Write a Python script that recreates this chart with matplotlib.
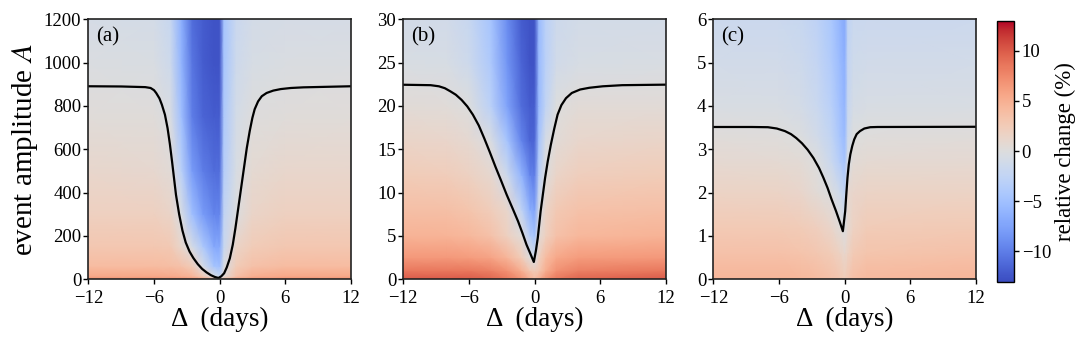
import numpy as np
import matplotlib.pyplot as plt
from matplotlib.colors import Normalize
from matplotlib.cm import ScalarMappable

plt.rcParams['font.family'] = ['Liberation Serif', 'DejaVu Serif']
plt.rcParams['mathtext.fontset'] = 'stix'

# relative change (%) on a coarse grid of nodes
# panel (a)
delta_a = [-12, -6, -4.5, -3.5, -2.5, -1.5, -0.5, 0, 0.4, 1.5, 3, 6, 12]
amp_a = [0, 15, 60, 150, 300, 500, 750, 1000, 1200]
val_a = [
    [7, 7, 7, 7, 6.5, 6, 4, 2, 4, 6, 6.5, 7, 7],
    [5.5, 5.5, 5.3, 5, 4.5, 2.5, -0.5, -2, 0.5, 3.5, 5, 5.5, 5.5],
    [4, 4, 3.8, 3.5, 2.5, -0.8, -4.5, -5, -0.5, 2.5, 3.5, 4, 4],
    [3, 3, 2.8, 1.2, -0.8, -4, -7, -7, -2, 1.5, 2.5, 3, 3],
    [2, 2, 1.5, -0.5, -5, -8, -9.5, -9.5, -2.5, -0.2, 1.5, 2, 2],
    [1.2, 1.0, 0.5, -3, -8, -10, -11, -11, -3.5, -0.6, 0.8, 1.2, 1.2],
    [0.4, 0.3, -0.4, -5, -10, -11.5, -12, -12, -4, -1.0, 0.05, 0.3, 0.4],
    [-0.3, -0.5, -1.5, -6, -10.5, -12, -12.5, -12.5, -4.5, -1.5, -0.7, -0.4, -0.3],
    [-0.8, -1.0, -2, -6.5, -11, -12, -12.5, -12.5, -4.5, -1.8, -1.0, -0.8, -0.8],
]
# zero contour (a)
line_a_x = [-12, -9, -6.8, -6.31, -6.0, -5.8, -5.5, -5.28, -5.0, -4.76, -4.55, -4.35,
            -3.99, -3.7, -3.4, -3.1, -2.75, -2.4, -2.0, -1.6, -1.2, -0.8, -0.45, -0.11,
            0.15, 0.41, 0.65, 0.93, 1.2, 1.44, 1.96, 2.48, 2.75, 2.99, 3.2, 3.51, 3.85,
            4.29, 4.9, 5.58, 6.5, 7.65, 12]
line_a_y = [891, 890, 887, 883, 873, 860, 835, 806, 760, 698, 625, 544,
            390, 300, 225, 170, 128, 98, 70, 48, 32, 19, 11, 6,
            14, 28, 55, 97, 160, 236, 421, 606, 685, 745, 785, 821, 845,
            860, 871, 878, 883, 886, 891]

# panel (b)
delta_b = [-12, -8, -6, -4, -2.5, -1.2, -0.4, 0, 0.4, 1, 2, 4, 12]
amp_b = [0, 1, 2.5, 5, 8, 12, 16, 20, 25, 30]
val_b = [
    [10, 10, 10, 9.5, 8.5, 7, 5, 4, 5, 7, 8.5, 9.5, 10],
    [8.5, 8.5, 8.5, 8, 7, 5, 3, 2.5, 3, 5, 7, 8, 8.5],
    [6.5, 6.5, 6.3, 5.8, 4.5, 2.5, 0.1, -0.8, 2, 4, 5.5, 6.3, 6.5],
    [4.7, 4.6, 4.3, 3.5, 2.0, 0.4, -3.5, -4.5, 0.5, 2, 3.5, 4.3, 4.7],
    [3.7, 3.6, 3.2, 2.3, 1.2, -2.5, -6.5, -7.5, -1, 1.5, 2.8, 3.4, 3.7],
    [2.5, 2.3, 1.9, 1.0, -1.5, -6, -9.5, -10, -3, 0, 1.5, 2.2, 2.5],
    [1.5, 1.3, 0.9, -0.4, -4.5, -9.5, -11.5, -11.5, -4.5, -0.8, 0.5, 1.2, 1.5],
    [0.5, 0.4, -0.1, -3, -7.5, -11, -12, -12, -5.5, -2.5, -0.1, 0.45, 0.5],
    [-0.5, -0.7, -1.5, -4, -8.5, -11.5, -12.5, -12.5, -5.5, -3, -1.2, -0.7, -0.5],
    [-1.0, -1.2, -2, -4.5, -9, -12, -12.5, -12.5, -5.5, -3, -1.5, -1.1, -1.0],
]
line_b_x = [-12, -9.5, -8.74, -8.2, -7.71, -7.2, -6.67, -6.15, -5.64, -5.1, -4.61, -4.1,
            -3.58, -3.05, -2.55, -2.0, -1.51, -1.1, -0.74, -0.4, -0.07,
            0.12, 0.29, 0.55, 0.96, 1.2, 1.48, 1.8, 2.1, 2.45, 2.87, 3.4,
            4.16, 5, 6.22, 8, 12]
line_b_y = [22.45, 22.4, 22.27, 22.05, 21.7, 21.3, 20.7, 19.95, 19.0, 17.75, 16.3, 14.7,
            13.0, 11.35, 9.76, 8.15, 6.69, 5.3, 4.0, 3.0, 2.0,
            3.3, 4.76, 7.84, 11.7, 13.6, 15.5, 17.4, 19.0, 20.1, 20.9, 21.5,
            21.9, 22.1, 22.27, 22.4, 22.46]

# panel (c)
delta_c = [-12, -6, -4, -2.5, -1.2, -0.4, 0, 0.3, 0.8, 2, 12]
amp_c = [0, 0.6, 1.2, 2.0, 2.7, 3.3, 4.0, 5.0, 6.0]
val_c = [
    [4.5, 4.5, 4.3, 4, 3.5, 3, 2.5, 3, 3.7, 4.2, 4.5],
    [3.5, 3.5, 3.3, 3, 2.5, 1.8, 1.2, 1.8, 2.7, 3.2, 3.5],
    [2.7, 2.7, 2.5, 2.1, 1.3, 0.3, -0.3, 0.8, 1.8, 2.5, 2.7],
    [1.7, 1.6, 1.3, 0.5, -0.2, -1.5, -2.5, 1.0, 1.3, 1.6, 1.7],
    [0.9, 0.8, 0.6, -0.1, -1.8, -3.5, -4.5, -0.6, 0.5, 0.8, 0.9],
    [0.25, 0.2, -0.15, -1.2, -2.5, -4.5, -5.5, -1.5, -0.1, 0.2, 0.25],
    [-0.5, -0.6, -1, -1.8, -3.2, -5, -6, -2, -0.9, -0.6, -0.5],
    [-1.1, -1.2, -1.5, -2.3, -3.8, -5.5, -6.5, -2.3, -1.4, -1.2, -1.1],
    [-1.6, -1.7, -2, -2.8, -4.2, -6, -7, -2.6, -1.8, -1.7, -1.6],
]
line_c_x = [-12, -8.5, -7.01, -6.2, -5.45, -4.9, -4.42, -3.9, -3.38, -2.85, -2.34,
            -1.95, -1.56, -1.2, -0.78, -0.45, -0.16,
            0.05, 0.15, 0.26, 0.38, 0.52, 0.7, 0.88, 1.1, 1.4, 1.8, 2.34, 3, 12]
line_c_y = [3.515, 3.515, 3.51, 3.48, 3.42, 3.35, 3.26, 3.14, 2.99, 2.8, 2.57,
            2.35, 2.11, 1.85, 1.57, 1.33, 1.11,
            1.57, 1.95, 2.34, 2.65, 2.88, 3.08, 3.23, 3.35, 3.42, 3.48, 3.51, 3.515, 3.52]

panels = [
    (delta_a, amp_a, val_a, line_a_x, line_a_y, 1200, [0, 200, 400, 600, 800, 1000, 1200], '(a)'),
    (delta_b, amp_b, val_b, line_b_x, line_b_y, 30, [0, 5, 10, 15, 20, 25, 30], '(b)'),
    (delta_c, amp_c, val_c, line_c_x, line_c_y, 6, [0, 1, 2, 3, 4, 5, 6], '(c)'),
]
lefts = [0.0811, 0.3703, 0.655]

fig = plt.figure(figsize=(10.89, 3.43), dpi=100)
norm = Normalize(vmin=-13, vmax=13)
cmap = plt.get_cmap('coolwarm')

for i, (dx, ay, vals, lx, ly, ymax, yticks, lab) in enumerate(panels):
    ax = fig.add_axes([lefts[i], 0.1857, 0.2412, 0.758])
    X, Y = np.meshgrid(dx, ay)
    ax.pcolormesh(X, Y, np.array(vals), shading='gouraud', cmap=cmap, norm=norm)
    ax.plot(lx, ly, color='black', lw=1.6, solid_joinstyle='round')
    ax.set_xlim(-12, 12)
    ax.set_ylim(0, ymax)
    ax.set_xticks([-12, -6, 0, 6, 12])
    ax.set_yticks(yticks)
    ax.tick_params(axis='y', labelsize=13.5, length=3.5, width=1, pad=1.5)
    ax.tick_params(axis='x', labelsize=13.5, length=3.5, width=1, pad=4)
    ax.set_xlabel('Δ  (days)', fontsize=19.5, labelpad=0)
    for s in ax.spines.values():
        s.set_linewidth(1.2)
        s.set_color('#222222')
    ax.text(0.03, 0.97, lab, transform=ax.transAxes, ha='left', va='top', fontsize=15)
    if i == 0:
        ax.set_ylabel('event amplitude $A$', fontsize=21, labelpad=3)

cax = fig.add_axes([0.9155, 0.179, 0.0156, 0.761])
cb = fig.colorbar(ScalarMappable(norm=norm, cmap=cmap), cax=cax, ticks=[-10, -5, 0, 5, 10])
cb.ax.tick_params(labelsize=13.5, length=3.5, width=1, pad=2)
cb.set_label('relative change (%)', fontsize=16.5, labelpad=3)
cb.outline.set_linewidth(1.0)

fig.savefig('out.png', dpi=100)
